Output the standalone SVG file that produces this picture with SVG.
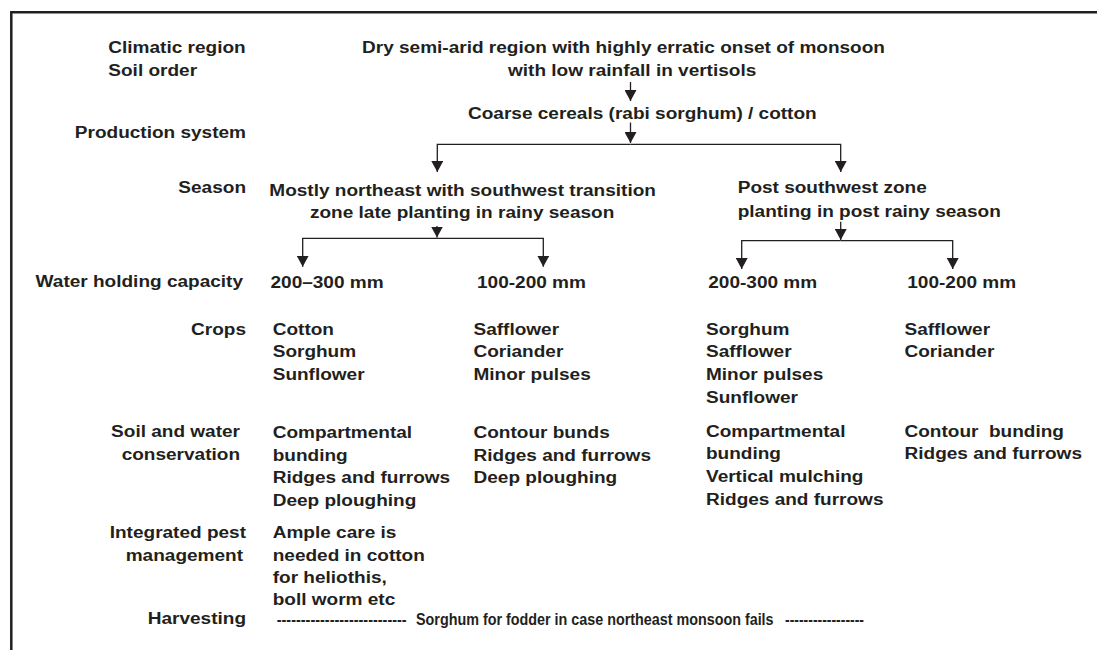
<svg xmlns="http://www.w3.org/2000/svg" width="1097" height="650" viewBox="0 0 1097 650">
  <style>
    text { font-family: "Liberation Sans", Arial, sans-serif; font-weight: bold; font-size: 16.4px; fill: #231f20; }
    .end { text-anchor: end; }
    .frame { fill: none; stroke: #231f20; stroke-width: 2.5; }
    .conn { fill: none; stroke: #231f20; stroke-width: 1.3; }
  </style>
  <defs>
    <marker id="arrow" viewBox="0 0 11 12" refX="11" refY="6" markerWidth="11" markerHeight="12" markerUnits="userSpaceOnUse" orient="auto">
      <path d="M0,0 L11,6 L0,12 z" fill="#231f20"/>
    </marker>
  </defs>

  <rect width="1097" height="650" fill="#ffffff"/>

  <!-- frame: top and left rules -->
  <path class="frame" d="M11.3,651 V12.2 H1098"/>

  <!-- row labels -->
  <g id="labels">
    <g transform="translate(108.3 0) scale(1.16 1)">
      <text x="0" y="53.3">Climatic region</text>
      <text x="0" y="76">Soil order</text>
    </g>
    <g transform="translate(246 0) scale(1.16 1)">
      <text class="end" x="0" y="137.7">Production system</text>
      <text class="end" x="0" y="192.7">Season</text>
      <text class="end" x="0" y="335">Crops</text>
      <text class="end" x="0" y="538.3">Integrated pest</text>
      <text class="end" x="0" y="624">Harvesting</text>
    </g>
    <g transform="translate(243 0) scale(1.16 1)">
      <text class="end" x="0" y="287">Water holding capacity</text>
      <text class="end" x="0" y="560.7">management</text>
    </g>
    <g transform="translate(240 0) scale(1.16 1)">
      <text class="end" x="0" y="437.3">Soil and water</text>
      <text class="end" x="0" y="460">conservation</text>
    </g>
  </g>

  <!-- climate / soil -->
  <g id="region">
    <g transform="translate(362 0) scale(1.16 1)"><text x="0" y="53.3">Dry semi-arid region with highly erratic onset of monsoon</text></g>
    <g transform="translate(508 0) scale(1.16 1)"><text x="0" y="76">with low rainfall in vertisols</text></g>
  </g>

  <!-- production system -->
  <g id="production" transform="translate(468 0) scale(1.16 1)">
    <text x="0" y="119.5">Coarse cereals (rabi sorghum) / cotton</text>
  </g>

  <!-- seasons -->
  <g id="season-northeast">
    <g transform="translate(269.3 0) scale(1.16 1)"><text x="0" y="196">Mostly northeast with southwest transition</text></g>
    <g transform="translate(310 0) scale(1.16 1)"><text x="0" y="218.3">zone late planting in rainy season</text></g>
  </g>
  <g id="season-post" transform="translate(737.7 0) scale(1.16 1)">
    <text x="0" y="192.7">Post southwest zone</text>
    <text x="0" y="216.7">planting in post rainy season</text>
  </g>

  <!-- column 1: northeast, 200-300 mm -->
  <g id="ne-high">
    <g transform="translate(270.5 0) scale(1.16 1)"><text x="0" y="288">200–300 mm</text></g>
    <g transform="translate(272.7 0) scale(1.16 1)">
      <text x="0" y="335">Cotton</text>
      <text x="0" y="357.3">Sorghum</text>
      <text x="0" y="380">Sunflower</text>
      <text x="0" y="438.3">Compartmental</text>
      <text x="0" y="461">bunding</text>
      <text x="0" y="483.3">Ridges and furrows</text>
      <text x="0" y="505.7">Deep ploughing</text>
      <text x="0" y="538.3">Ample care is</text>
      <text x="0" y="560.7">needed in cotton</text>
      <text x="0" y="583.3">for heliothis,</text>
      <text x="0" y="605">boll worm etc</text>
    </g>
  </g>

  <!-- column 2: northeast, 100-200 mm -->
  <g id="ne-low">
    <g transform="translate(477 0) scale(1.16 1)"><text x="0" y="288">100-200 mm</text></g>
    <g transform="translate(473.5 0) scale(1.16 1)">
      <text x="0" y="335">Safflower</text>
      <text x="0" y="357.3">Coriander</text>
      <text x="0" y="380">Minor pulses</text>
      <text x="0" y="438.3">Contour bunds</text>
      <text x="0" y="461">Ridges and furrows</text>
      <text x="0" y="483.3">Deep ploughing</text>
    </g>
  </g>

  <!-- column 3: post southwest, 200-300 mm -->
  <g id="sw-high">
    <g transform="translate(708.3 0) scale(1.16 1)"><text x="0" y="288.5">200-300 mm</text></g>
    <g transform="translate(706 0) scale(1.16 1)">
      <text x="0" y="335">Sorghum</text>
      <text x="0" y="357.3">Safflower</text>
      <text x="0" y="380">Minor pulses</text>
      <text x="0" y="402.7">Sunflower</text>
      <text x="0" y="436.7">Compartmental</text>
      <text x="0" y="459.3">bunding</text>
      <text x="0" y="482">Vertical mulching</text>
      <text x="0" y="504.7">Ridges and furrows</text>
    </g>
  </g>

  <!-- column 4: post southwest, 100-200 mm -->
  <g id="sw-low">
    <g transform="translate(907.3 0) scale(1.16 1)"><text x="0" y="288.5">100-200 mm</text></g>
    <g transform="translate(904.5 0) scale(1.16 1)">
      <text x="0" y="335">Safflower</text>
      <text x="0" y="357.3">Coriander</text>
      <text x="0" y="436.7" xml:space="preserve">Contour  bunding</text>
      <text x="0" y="459.3">Ridges and furrows</text>
    </g>
  </g>

  <!-- harvesting row, set in a narrower face -->
  <g id="harvesting">
    <text x="276.7" y="625" textLength="130" lengthAdjust="spacingAndGlyphs">---------------------------</text>
    <g transform="translate(416 0) scale(0.875 1)"><text x="0" y="625">Sorghum for fodder in case northeast monsoon fails</text></g>
    <text x="785" y="625" textLength="79" lengthAdjust="spacingAndGlyphs">-----------------</text>
  </g>

  <!-- connectors -->
  <g id="connectors">
    <path class="conn" d="M630.5,82 V101" marker-end="url(#arrow)"/>
    <path class="conn" d="M630.5,122.5 V143" marker-end="url(#arrow)"/>
    <path class="conn" d="M630.5,144.3 H437.3 V172" marker-end="url(#arrow)"/>
    <path class="conn" d="M630.5,144.3 H840.7 V172" marker-end="url(#arrow)"/>
    <path class="conn" d="M437,226 V237.5" marker-end="url(#arrow)"/>
    <path class="conn" d="M437,238.3 H302.7 V266.7" marker-end="url(#arrow)"/>
    <path class="conn" d="M437,238.3 H543.3 V266.7" marker-end="url(#arrow)"/>
    <path class="conn" d="M840.7,221.7 V240" marker-end="url(#arrow)"/>
    <path class="conn" d="M840.7,240.7 H741.7 V269" marker-end="url(#arrow)"/>
    <path class="conn" d="M840.7,240.7 H952.7 V269" marker-end="url(#arrow)"/>
  </g>
</svg>
